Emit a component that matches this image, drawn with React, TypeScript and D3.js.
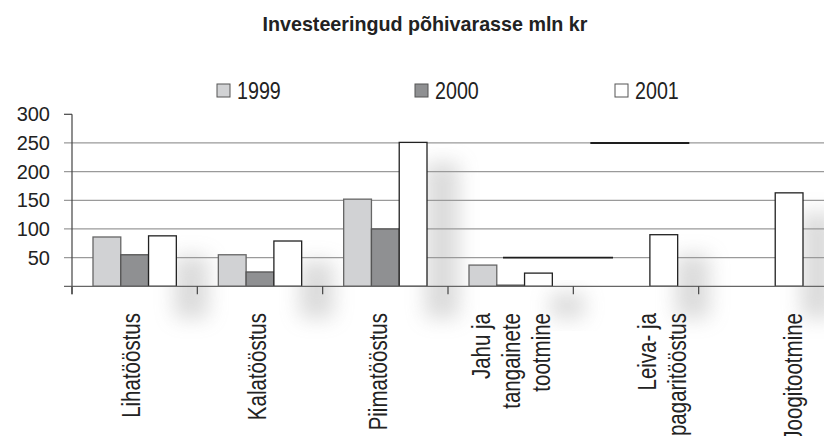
import * as d3 from 'd3';

const title = 'Investeeringud põhivarasse mln kr';
const categories = [
  'Lihatööstus',
  'Kalatööstus',
  'Piimatööstus',
  'Jahu ja tangainete tootmine',
  'Leiva- ja pagaritööstus',
  'Joogitootmine',
];
const labelLines: Record<string, string[]> = {
  'Jahu ja tangainete tootmine': ['Jahu ja', 'tangainete', 'tootmine'],
  'Leiva- ja pagaritööstus': ['Leiva- ja', 'pagaritööstus'],
};
const series = ['1999', '2000', '2001'];
const values1999 = [86, 55, 152, 37, 0, 0];
const values2000 = [55, 25, 100, 2, 0, 0];
const values2001 = [88, 79, 251, 23, 90, 163];
const yTicks = [50, 100, 150, 200, 250, 300];

const fills: Record<string, string> = { '1999': '#d1d2d4', '2000': '#8f9092', '2001': '#ffffff' };
const strokes: Record<string, string> = { '1999': '#666', '2000': '#555', '2001': '#222' };
// label nudges seen in the picture (px)
const labelNudge = [-4, -3, -7, 0, 26, 32];

const W = 824;
const H = 436;
const font = '"Liberation Sans", Arial, sans-serif';
const squeeze = 0.82; // condensed look

export default function App() {
  const valuesBy: Record<string, number[]> = { '1999': values1999, '2000': values2000, '2001': values2001 };

  const x = d3.scaleBand().domain(categories).range([72, 824]).padding(0);
  const inner = d3.scaleBand().domain(series).range([21, x.bandwidth() - 21]).padding(0);
  const y = d3.scaleLinear().domain([0, 300]).range([286.3, 114.3]);

  const legendX = [217, 415, 615];

  return (
    <svg width={W} height={H} style={{ position: 'absolute', left: 0, top: 0, background: '#fff' }}>
      <defs>
        <filter id="soft" x="-100%" y="-50%" width="300%" height="200%">
          <feGaussianBlur stdDeviation="10" />
        </filter>
      </defs>

      <text x={425} y={30.5} textAnchor="middle" fontFamily={font} fontWeight="bold" fontSize={19.7} fill="#222">
        {title}
      </text>

      {/* legend */}
      {series.map((s, i) => (
        <g key={s}>
          <rect x={legendX[i]} y={84} width={13} height={13} fill={fills[s]} stroke="#555" strokeWidth={1} />
          <text transform={`translate(${legendX[i] + 20},99) scale(${squeeze},1)`} fontFamily={font} fontSize={24} fill="#222">{s}</text>
        </g>
      ))}

      {/* soft shadows next to the last bar of each group */}
      {categories.map((c, i) => {
        const v = values2001[i];
        if (!v) return null;
        const bx = x(c)! + inner('2001')! + inner.bandwidth();
        return (
          <rect key={'sh' + c} x={bx - 2} y={y(v) + 20} width={34} height={y(0) - y(v) + 12}
            fill="#999" opacity={0.35} filter="url(#soft)" />
        );
      })}

      {/* grid */}
      {yTicks.filter(t => t < 300).map(t => (
        <line key={'g' + t} x1={64} x2={824} y1={y(t)} y2={y(t)} stroke="#9a9a9a" strokeWidth={1.2} />
      ))}
      <line x1={64} x2={72} y1={y(300)} y2={y(300)} stroke="#444" strokeWidth={1.2} />

      {/* darker stray segments of the grid */}
      <line x1={x('Leiva- ja pagaritööstus')! + 17} x2={x('Leiva- ja pagaritööstus')! + 116}
        y1={y(250)} y2={y(250)} stroke="#1e1e1e" strokeWidth={2} />
      <line x1={x('Jahu ja tangainete tootmine')! + 55} x2={x('Jahu ja tangainete tootmine')! + 165}
        y1={y(50)} y2={y(50)} stroke="#1e1e1e" strokeWidth={1.6} />

      {/* bars */}
      {categories.map((c, i) => (
        <g key={c} transform={`translate(${x(c)},0)`}>
          {series.map(s => {
            const v = valuesBy[s][i];
            if (!v) return null;
            return (
              <rect key={s} x={inner(s)} y={y(v)} width={inner.bandwidth()} height={y(0) - y(v)}
                fill={fills[s]} stroke={strokes[s]} strokeWidth={1.3} />
            );
          })}
        </g>
      ))}

      {/* axes */}
      <line x1={72} x2={72} y1={y(300)} y2={y(0) + 8} stroke="#444" strokeWidth={1.2} />
      <line x1={64} x2={824} y1={y(0)} y2={y(0)} stroke="#666" strokeWidth={1.3} />
      {categories.map(c => (
        <line key={'t' + c} x1={x(c)!} x2={x(c)!} y1={y(0)} y2={y(0) + 8} stroke="#444" strokeWidth={1.2} />
      ))}

      {yTicks.map(t => (
        <text key={'l' + t} x={50} y={y(t) + 7} textAnchor="end" fontFamily={font} fontSize={20} fill="#222">
          {t}
        </text>
      ))}

      {/* category labels */}
      {categories.map((c, i) => {
        const lines = labelLines[c] ?? [c];
        const cx = x(c)! + x.bandwidth() / 2 + labelNudge[i];
        const step = 30;
        return lines.map((ln, k) => {
          const lx = cx + (k - (lines.length - 1) / 2) * step + 9;
          return (
            <text key={c + k} transform={`translate(${lx},313) rotate(-90) scale(${squeeze},1)`} textAnchor="end"
              fontFamily={font} fontSize={25} fill="#222">
              {ln}
            </text>
          );
        });
      })}
    </svg>
  );
}
